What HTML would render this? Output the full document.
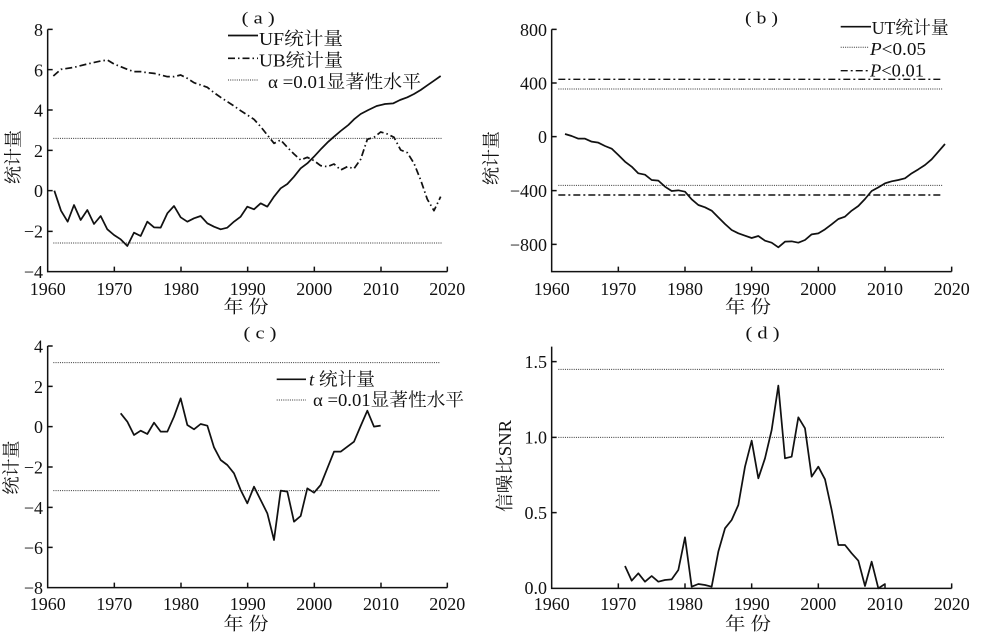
<!DOCTYPE html>
<html><head><meta charset="utf-8">
<style>
html,body{margin:0;padding:0;background:#fff;}
svg{display:block;}
text{font-family:"Liberation Serif","Noto Serif CJK SC",serif;fill:#111;}
.t{font-size:18px;}
</style></head><body>
<svg width="1000" height="641" viewBox="0 0 1000 641" xmlns="http://www.w3.org/2000/svg">
<rect width="1000" height="641" fill="#fff"/>

<!-- ============ PANEL A ============ -->
<g transform="scale(0.33333)" fill="none" stroke="#111">
  <path d="M143,88 V815 H1342" stroke-width="4.5"/>
  <path d="M143,88h15 M143,209h15 M143,330h15 M143,451h15 M143,572h15 M143,694h15" stroke-width="4.5"/>
  <path d="M343,815v-15 M543,815v-15 M743,815v-15 M943,815v-15 M1143,815v-15 M1342,815v-15" stroke-width="4.5"/>
  <path d="M160,415 H1325 M160,729 H1325" stroke-width="3" stroke="#333" stroke-dasharray="3 3.6"/>
  <polyline stroke-width="5.2" stroke-linejoin="round" points="163,572 183,632 203,665 222,615 242,660 262,630 282,672 302,648 322,688 342,705 362,718 382,738 402,698 422,708 442,665 462,682 482,683 502,640 522,618 542,652 562,665 582,655 602,648 622,670 642,680 662,688 682,683 702,665 722,650 742,620 762,628 782,610 802,620 822,590 842,565 862,552 882,530 902,505 922,490 942,470 965,445 985,425 1002,410 1022,393 1045,375 1062,358 1082,342 1105,330 1130,318 1155,312 1180,310 1200,300 1222,292 1242,282 1262,270 1282,256 1302,242 1322,228"/>
  <polyline stroke-width="5.2" stroke-linejoin="round" stroke-dasharray="21 9 4.5 9" points="160,228 183,208 222,202 262,192 302,183 322,180 342,192 362,200 382,208 402,215 422,215 442,218 462,220 482,225 502,230 522,230 542,225 562,235 582,248 602,255 622,262 642,278 662,292 682,305 702,318 722,332 742,345 762,358 782,380 802,405 822,430 842,420 862,442 882,462 902,480 922,472 942,482 962,497 982,500 1002,492 1022,510 1042,500 1062,506 1082,478 1102,418 1122,412 1142,396 1162,402 1182,412 1202,450 1222,458 1242,490 1262,540 1282,598 1302,632 1322,590"/>
</g>
<g class="t" text-anchor="end">
  <text x="43" y="36">8</text><text x="43" y="76.3">6</text><text x="43" y="116.5">4</text>
  <text x="43" y="156.8">2</text><text x="43" y="197.2">0</text><text x="43" y="237.5">−2</text><text x="43" y="278">−4</text>
</g>
<g class="t" text-anchor="middle">
  <text x="47.7" y="295">1960</text><text x="114.3" y="295">1970</text><text x="181" y="295">1980</text>
  <text x="247.7" y="295">1990</text><text x="314.3" y="295">2000</text><text x="381" y="295">2010</text><text x="447.3" y="295">2020</text>
</g>
<text x="241.7" y="23.5" font-size="17" textLength="33" lengthAdjust="spacingAndGlyphs">( a )</text>
<text x="246" y="313" font-size="18" text-anchor="middle" textLength="45" lengthAdjust="spacingAndGlyphs">年 份</text>
<text transform="translate(13.3,157) rotate(-90)" font-size="18" text-anchor="middle" dominant-baseline="central">统计量</text>
<!-- legend a -->
<line x1="228" y1="35.5" x2="258" y2="35.5" stroke="#111" stroke-width="1.7"/>
<text x="259" y="45" font-size="18" textLength="84" lengthAdjust="spacingAndGlyphs">UF统计量</text>
<line x1="228" y1="58.3" x2="258" y2="58.3" stroke="#111" stroke-width="1.7" stroke-dasharray="7 3 1.5 3"/>
<text x="259" y="66.5" font-size="18" textLength="84" lengthAdjust="spacingAndGlyphs">UB统计量</text>
<line x1="228" y1="80" x2="258" y2="80" stroke="#333" stroke-width="1" stroke-dasharray="1 1.2"/>
<text x="268" y="88" font-size="18" textLength="153" lengthAdjust="spacingAndGlyphs">α =0.01显著性水平</text>

<!-- ============ PANEL B ============ -->
<g transform="translate(500,0) scale(0.33333)" fill="none" stroke="#111">
  <path d="M155,88 V815 H1355" stroke-width="4.5"/>
  <path d="M155,88h15 M155,249h15 M155,410h15 M155,572h15 M155,733h15" stroke-width="4.5"/>
  <path d="M355,815v-15 M555,815v-15 M755,815v-15 M955,815v-15 M1155,815v-15 M1355,815v-15" stroke-width="4.5"/>
  <path d="M175,238 H1330 M175,585 H1330" stroke-width="4.2" stroke-dasharray="21 9 6 9"/>
  <path d="M175,267 H1330 M175,556 H1330" stroke-width="3" stroke="#333" stroke-dasharray="3 3.6"/>
  <polyline stroke-width="5.2" stroke-linejoin="round" points="195,402 215,408 235,416 255,416 275,425 295,428 315,438 335,446 355,465 375,485 395,500 415,520 435,524 455,540 475,542 495,560 515,573 535,571 555,575 575,598 595,615 615,622 635,632 655,652 675,672 695,690 715,700 735,707 755,714 775,708 795,722 815,728 835,742 855,725 875,724 895,728 915,720 935,703 955,700 975,688 995,673 1015,657 1035,650 1055,632 1075,618 1095,597 1115,573 1135,562 1155,550 1175,544 1195,540 1215,535 1235,520 1255,508 1275,495 1295,478 1315,455 1335,432"/>
</g>
<g class="t" text-anchor="end">
  <text x="547" y="35.8">800</text><text x="547" y="89.5">400</text><text x="547" y="143.2">0</text>
  <text x="547" y="197.2">−400</text><text x="547" y="250.8">−800</text>
</g>
<g class="t" text-anchor="middle">
  <text x="551.7" y="295">1960</text><text x="618.3" y="295">1970</text><text x="685" y="295">1980</text>
  <text x="751.7" y="295">1990</text><text x="818.3" y="295">2000</text><text x="885" y="295">2010</text><text x="951.7" y="295">2020</text>
</g>
<text x="745" y="23.5" font-size="17" textLength="33" lengthAdjust="spacingAndGlyphs">( b )</text>
<text x="748" y="313" font-size="18" text-anchor="middle" textLength="46" lengthAdjust="spacingAndGlyphs">年 份</text>
<text transform="translate(491.7,158) rotate(-90)" font-size="18" text-anchor="middle" dominant-baseline="central">统计量</text>
<!-- legend b -->
<line x1="840.7" y1="26.7" x2="871" y2="26.7" stroke="#111" stroke-width="1.7"/>
<text x="871.7" y="34" font-size="18" textLength="77" lengthAdjust="spacingAndGlyphs">UT统计量</text>
<line x1="840.7" y1="47.3" x2="869" y2="47.3" stroke="#333" stroke-width="1" stroke-dasharray="1 1.2"/>
<text x="870" y="55" font-size="18" textLength="56" lengthAdjust="spacingAndGlyphs"><tspan font-style="italic">P</tspan>&lt;0.05</text>
<line x1="840.7" y1="70.7" x2="869" y2="70.7" stroke="#111" stroke-width="1.4" stroke-dasharray="7 3 2 3"/>
<text x="870" y="76.5" font-size="18" textLength="54" lengthAdjust="spacingAndGlyphs"><tspan font-style="italic">P</tspan>&lt;0.01</text>

<!-- ============ PANEL C ============ -->
<g transform="translate(0,320) scale(0.33333)" fill="none" stroke="#111">
  <path d="M143,78 V803 H1342" stroke-width="4.5"/>
  <path d="M143,78h15 M143,199h15 M143,320h15 M143,441h15 M143,562h15 M143,682h15" stroke-width="4.5"/>
  <path d="M343,803v-15 M543,803v-15 M743,803v-15 M943,803v-15 M1143,803v-15 M1342,803v-15" stroke-width="4.5"/>
  <path d="M160,128 H1320 M160,512 H1320" stroke-width="3" stroke="#333" stroke-dasharray="3 3.6"/>
  <polyline stroke-width="5.2" stroke-linejoin="round" points="362,280 382,305 402,345 422,332 442,342 462,308 482,335 502,335 522,290 542,235 562,315 582,328 602,312 622,317 642,382 662,420 682,435 702,460 722,510 742,550 762,500 782,540 802,580 822,660 842,512 862,515 882,605 902,588 922,505 942,518 962,495 982,445 1002,395 1022,395 1042,380 1062,365 1082,318 1102,272 1122,320 1142,317"/>
</g>
<g class="t" text-anchor="end">
  <text x="43" y="352.5">4</text><text x="43" y="392.8">2</text><text x="43" y="433.2">0</text>
  <text x="43" y="473.5">−2</text><text x="43" y="513.8">−4</text><text x="43" y="553.8">−6</text><text x="43" y="594">−8</text>
</g>
<g class="t" text-anchor="middle">
  <text x="47.7" y="610">1960</text><text x="114.3" y="610">1970</text><text x="181" y="610">1980</text>
  <text x="247.7" y="610">1990</text><text x="314.3" y="610">2000</text><text x="381" y="610">2010</text><text x="447.3" y="610">2020</text>
</g>
<text x="243.5" y="338.5" font-size="17" textLength="33" lengthAdjust="spacingAndGlyphs">( c )</text>
<text x="246" y="630" font-size="18" text-anchor="middle" textLength="45" lengthAdjust="spacingAndGlyphs">年 份</text>
<text transform="translate(11.7,467.5) rotate(-90)" font-size="18" text-anchor="middle" dominant-baseline="central">统计量</text>
<!-- legend c -->
<line x1="276.7" y1="379.3" x2="306" y2="379.3" stroke="#111" stroke-width="1.7"/>
<text x="309" y="385.5" font-size="18" textLength="66" lengthAdjust="spacingAndGlyphs"><tspan font-style="italic">t</tspan> 统计量</text>
<line x1="276.7" y1="400" x2="306" y2="400" stroke="#333" stroke-width="1" stroke-dasharray="1 1.2"/>
<text x="313" y="406" font-size="18" textLength="151" lengthAdjust="spacingAndGlyphs">α =0.01显著性水平</text>

<!-- ============ PANEL D ============ -->
<g transform="translate(500,320) scale(0.33333)" fill="none" stroke="#111">
  <path d="M155,80 V805 H1355" stroke-width="4.5"/>
  <path d="M155,125h15 M155,352h15 M155,578h15" stroke-width="4.5"/>
  <path d="M355,805v-15 M555,805v-15 M755,805v-15 M955,805v-15 M1155,805v-15 M1355,805v-15" stroke-width="4.5"/>
  <path d="M175,148 H1332 M175,352 H1332" stroke-width="3" stroke="#333" stroke-dasharray="3 3.6"/>
  <polyline stroke-width="5.2" stroke-linejoin="round" points="375,738 395,782 415,760 435,785 455,768 475,785 495,780 515,778 535,750 555,652 575,800 595,792 615,795 635,800 655,695 675,625 695,600 715,555 735,440 755,362 775,475 795,415 815,330 835,197 855,415 875,410 895,292 915,325 935,470 955,440 975,478 995,570 1015,675 1035,675 1055,700 1075,722 1095,798 1115,725 1135,805 1155,792"/>
</g>
<g class="t" text-anchor="end">
  <text x="547" y="368">1.5</text><text x="547" y="443.6">1.0</text><text x="547" y="519">0.5</text><text x="547" y="594">0.0</text>
</g>
<g class="t" text-anchor="middle">
  <text x="551.7" y="610">1960</text><text x="618.3" y="610">1970</text><text x="685" y="610">1980</text>
  <text x="751.7" y="610">1990</text><text x="818.3" y="610">2000</text><text x="885" y="610">2010</text><text x="951.7" y="610">2020</text>
</g>
<text x="745.5" y="338.5" font-size="17" textLength="34" lengthAdjust="spacingAndGlyphs">( d )</text>
<text x="748" y="630" font-size="18" text-anchor="middle" textLength="46" lengthAdjust="spacingAndGlyphs">年 份</text>
<text transform="translate(505,466) rotate(-90)" font-size="18" text-anchor="middle" dominant-baseline="central" textLength="92" lengthAdjust="spacingAndGlyphs">信噪比SNR</text>
</svg>
</body></html>
